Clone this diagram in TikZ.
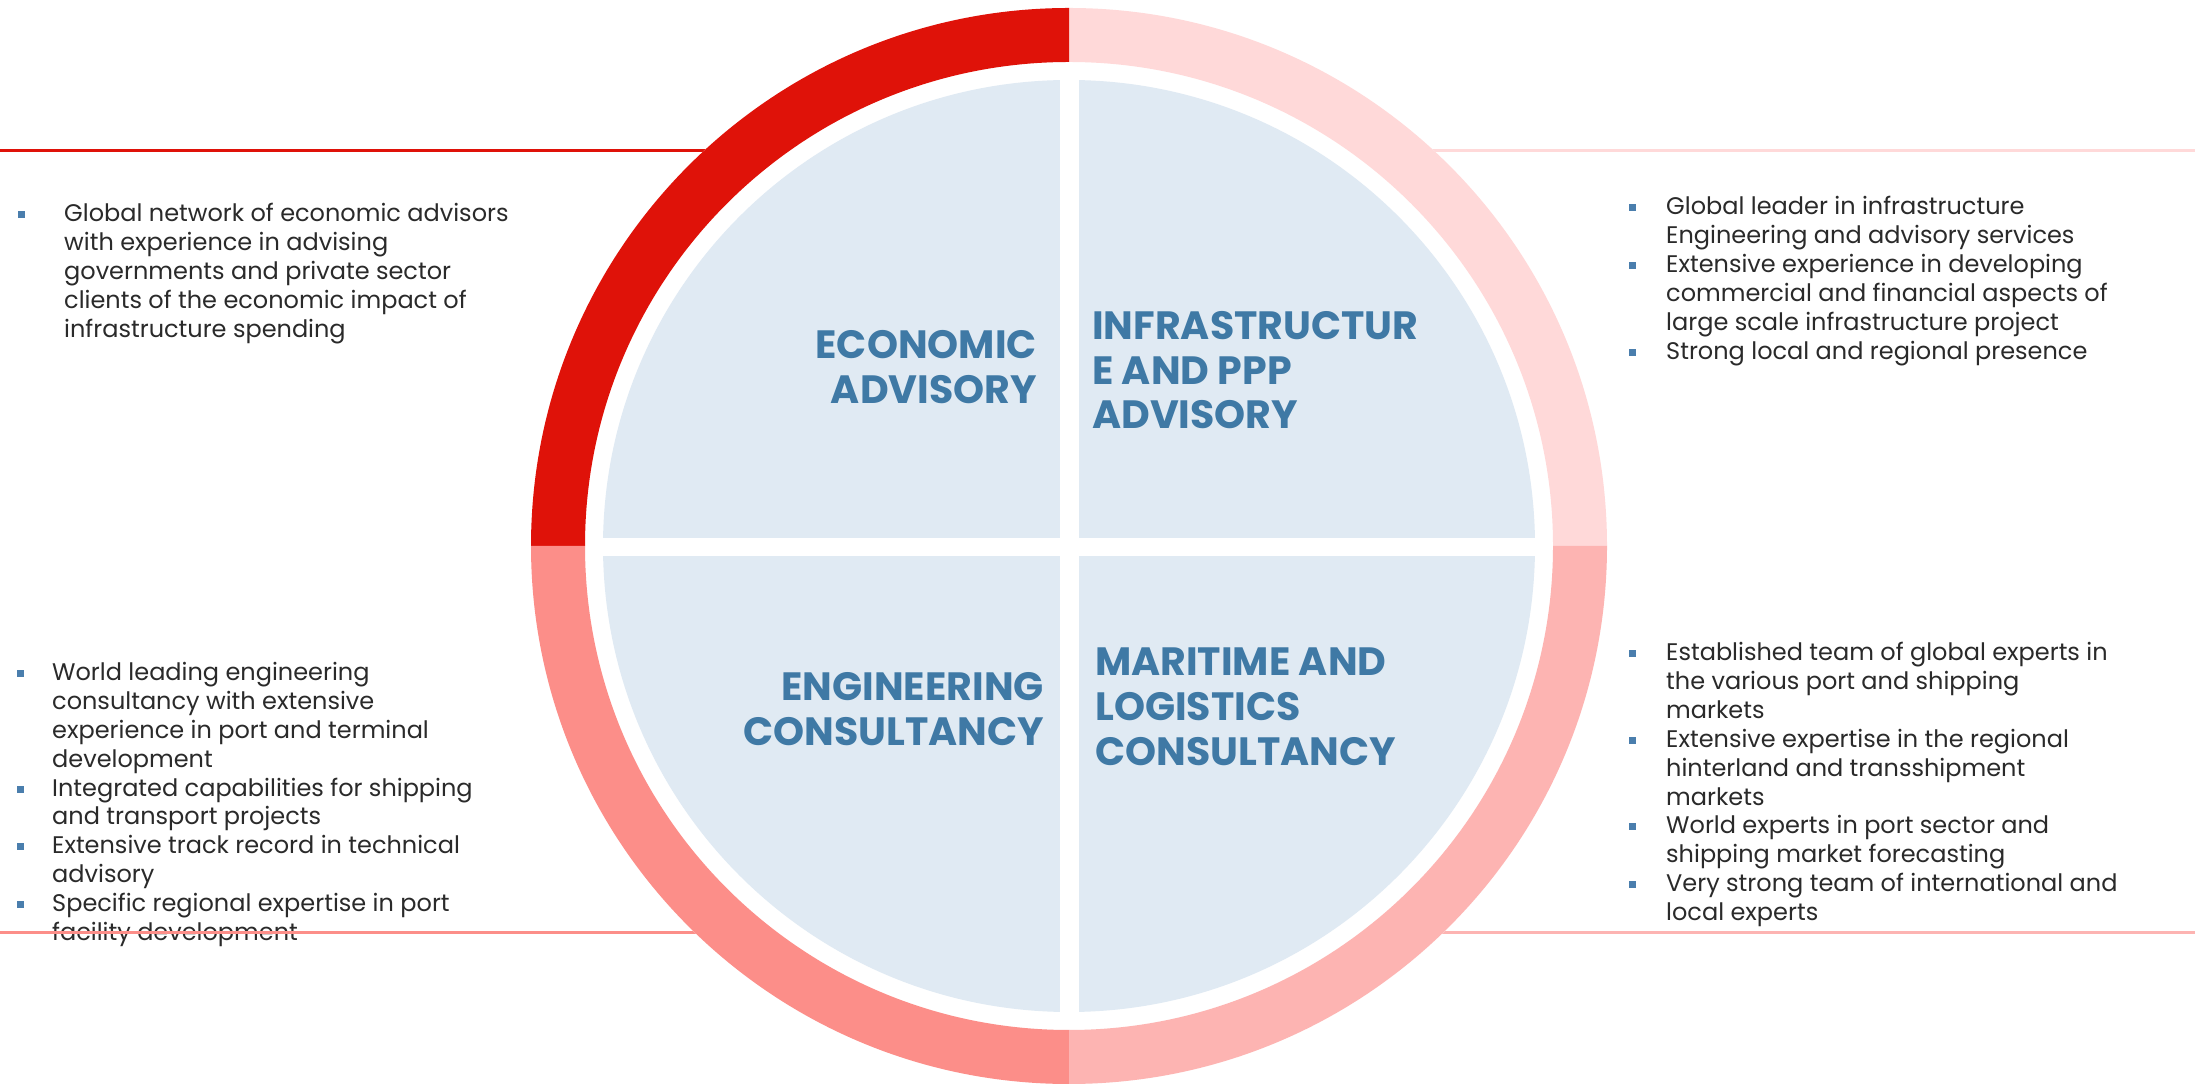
\documentclass[tikz,border=0pt]{standalone}
\usepackage{fontspec}
\setmainfont{Poppins}
\definecolor{segTL}{HTML}{DF1209}
\definecolor{segTR}{HTML}{FFD9D9}
\definecolor{segBL}{HTML}{FC8E89}
\definecolor{segBR}{HTML}{FDB4B2}
\definecolor{quadfill}{HTML}{E0EAF3}
\definecolor{titleblue}{HTML}{3F79A5}
\definecolor{bodytext}{HTML}{2A2A2A}
\definecolor{bulletblue}{HTML}{4A7EAD}
% square bullet hung left of the text column, #1 = gap to the text
\newcommand\sqbul[1]{\leavevmode\llap{\textcolor{bulletblue}{\rule[3.5pt]{7pt}{7pt}}\hspace{#1}}}
\begin{document}
\begin{tikzpicture}[x=1pt,y=1pt,
  bodytxt/.style={font=\fontsize{24}{28.9}\selectfont, text=bodytext, align=left, inner sep=0pt, anchor=north west},
  titletxt/.style={font=\bfseries\fontsize{39.5}{44.8}\selectfont, text=titleblue, inner sep=0pt},
  rule line/.style={line width=3pt}]
\useasboundingbox (0,0) rectangle (2195,1084);
\fill[white] (0,0) rectangle (2195,1084);
\coordinate (c) at (1069,538);

% bullet texts
\node[bodytxt] (econtext) at (64,881) {\sqbul{39.5pt}Global network of economic advisors\\
with experience in advising\\
governments and private sector\\
clients of the economic impact of\\
infrastructure spending};

\node[bodytxt] (infratext) at (1666,888) {\sqbul{30.5pt}Global leader in infrastructure\\
Engineering and advisory services\\
\sqbul{30.5pt}Extensive experience in developing\\
commercial and financial aspects of\\
large scale infrastructure project\\
\sqbul{30.5pt}Strong local and regional presence};

\node[bodytxt] (engtext) at (52,422) {\sqbul{28.5pt}World leading engineering\\
consultancy with extensive\\
experience in port and terminal\\
development\\
\sqbul{28.5pt}Integrated capabilities for shipping\\
and transport projects\\
\sqbul{28.5pt}Extensive track record in technical\\
advisory\\
\sqbul{28.5pt}Specific regional expertise in port\\
facility development};

\node[bodytxt] (martext) at (1666,442) {\sqbul{30.5pt}Established team of global experts in\\
the various port and shipping\\
markets\\
\sqbul{30.5pt}Extensive expertise in the regional\\
hinterland and transshipment\\
markets\\
\sqbul{30.5pt}World experts in port sector and\\
shipping market forecasting\\
\sqbul{30.5pt}Very strong team of international and\\
local experts};

% horizontal rules behind the ring
\draw[rule line, segTL] (0,933) -- (1069,933);
\draw[rule line, segTR] (1069,933) -- (2195,933);
\draw[rule line, segBL] (0,151) -- (1069,151);
\draw[rule line, segBR] (1069,151) -- (2195,151);

\begin{scope}[shift={(c)}]
  \fill[white] (0,0) circle[radius=538];
  % outer ring in four coloured quarters
  \fill[segTR] (0:538) arc[start angle=0,end angle=90,radius=538] -- (90:484) arc[start angle=90,end angle=0,radius=484] -- cycle;
  \fill[segTL] (90:538) arc[start angle=90,end angle=180,radius=538] -- (180:484) arc[start angle=180,end angle=90,radius=484] -- cycle;
  \fill[segBL] (180:538) arc[start angle=180,end angle=270,radius=538] -- (270:484) arc[start angle=270,end angle=180,radius=484] -- cycle;
  \fill[segBR] (270:538) arc[start angle=270,end angle=360,radius=538] -- (360:484) arc[start angle=360,end angle=270,radius=484] -- cycle;
  % inner disc split into quadrants by a white cross
  \fill[quadfill] (0,0) circle[radius=466];
  \fill[white] (-9.5,-480) rectangle (9.5,480);
  \fill[white] (-480,-10.5) rectangle (480,7.5);
\end{scope}

% quadrant titles
\node[titletxt, align=right, anchor=north east] (econ) at (1037,754) {ECONOMIC\\ADVISORY};
\node[titletxt, align=left, anchor=north west] (infra) at (1092,773) {INFRASTRUCTUR\\E AND PPP\\ADVISORY};
\node[titletxt, align=right, anchor=north east] (eng) at (1044,412) {ENGINEERING\\CONSULTANCY};
\node[titletxt, align=left, anchor=north west] (mar) at (1095,436) {MARITIME AND\\LOGISTICS\\CONSULTANCY};
\end{tikzpicture}
\end{document}
